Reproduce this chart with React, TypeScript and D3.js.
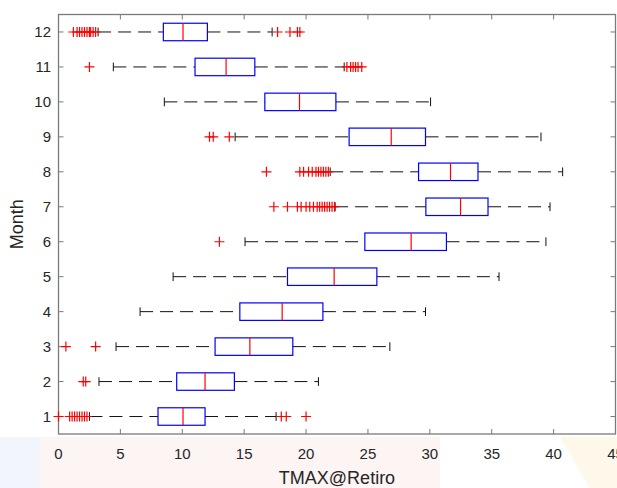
import React from 'react';
import * as d3 from 'd3';

// boxplot stats (month 1..12)
const months = [1, 2, 3, 4, 5, 6, 7, 8, 9, 10, 11, 12];
const whiskerLow = [2.5, 3.27, 4.65, 6.59, 9.26, 15.07, 22.35, 21.95, 14.27, 8.55, 4.43, 3.2];
const q1 = [8.04, 9.55, 12.65, 14.65, 18.5, 24.75, 29.68, 29.09, 23.48, 16.67, 11.03, 8.47];
const median = [10.06, 11.84, 15.46, 18.07, 22.27, 28.49, 32.48, 31.67, 26.88, 19.47, 13.54, 10.06];
const q3 = [11.84, 14.21, 18.93, 21.36, 25.72, 31.34, 34.7, 33.89, 29.65, 22.41, 15.86, 12.03];
const whiskerHigh = [17.58, 21.0, 26.77, 29.65, 35.59, 39.38, 39.71, 40.73, 38.98, 30.06, 23.08, 17.26];
const outliers = [
  [0.0, 0.9, 1.1, 1.3, 1.5, 1.7, 1.9, 2.1, 2.3, 18.0, 18.4, 20.0],
  [2.0, 2.2],
  [0.6, 3.0],
  [],
  [],
  [13.0],
  [17.4, 18.5, 19.3, 19.6, 20.0, 20.3, 20.6, 20.9, 21.1, 21.3, 21.5, 21.7, 21.9, 22.1, 22.3],
  [16.8, 19.5, 19.8, 20.2, 20.5, 20.8, 21.0, 21.2, 21.4, 21.6, 21.8],
  [12.2, 12.5, 13.8],
  [],
  [2.5, 23.3, 23.6, 23.8, 24.0, 24.2, 24.5],
  [1.2, 1.5, 1.7, 1.9, 2.1, 2.3, 2.5, 2.6, 2.8, 3.0, 17.7, 18.7, 19.3, 19.5],
];
const xTicks = [0, 5, 10, 15, 20, 25, 30, 35, 40, 45];
const xLabel = 'TMAX@Retiro';
const yLabel = 'Month';

const W = 617;
const H = 488;
const left = 58.5;
const right = 615.5;
const top = 14.5;
const bottom = 434;
const font = 'Helvetica, Arial, "Liberation Sans", sans-serif';
const axisColor = '#7a7a7a';
const textColor = '#262626';

const App = () => {
  const x = d3.scaleLinear().domain([0, 45]).range([left, right]);
  const y = d3.scaleLinear().domain([0.5, 12.5]).range([bottom, top]);
  const bh = (y(0) - y(0.5)); // box height = 0.5 month
  const cap = bh / 2;

  return (
    <svg width={W} height={H} style={{ position: 'absolute', left: 0, top: 0, display: 'block' }}>
      <rect width={W} height={H} fill="#ffffff" />
      {/* faint background bands at the bottom */}
      <rect x={0} y={437} width={40} height={51} fill="#f2f6fc" />
      <rect x={40} y={437} width={400} height={51} fill="#fdf4f4" />
      <path d="M560,437 L617,437 L617,488 L590,488 Z" fill="#fdf8ea" />

      {/* axes box */}
      <rect x={left} y={top} width={right - left} height={bottom - top} fill="none" stroke={axisColor} strokeWidth={1.3} />
      {xTicks.map((t) => (
        <g key={t}>
          <line x1={x(t)} x2={x(t)} y1={bottom} y2={bottom - 5} stroke={axisColor} />
          <line x1={x(t)} x2={x(t)} y1={top} y2={top + 5} stroke={axisColor} />
          <text x={x(t)} y={459} textAnchor="middle" fontFamily={font} fontSize={15} fill={textColor}>{t}</text>
        </g>
      ))}
      {months.map((m) => (
        <g key={m}>
          <line x1={left} x2={left + 5} y1={y(m)} y2={y(m)} stroke={axisColor} />
          <line x1={right} x2={right - 5} y1={y(m)} y2={y(m)} stroke={axisColor} />
          <text x={51} y={y(m)} dy="0.36em" textAnchor="end" fontFamily={font} fontSize={15} fill={textColor}>{m}</text>
        </g>
      ))}
      <text x={(left + right) / 2} y={484} textAnchor="middle" fontFamily={font} fontSize={18} fill={textColor}>{xLabel}</text>
      <text transform={`translate(23,${(top + bottom) / 2}) rotate(-90)`} textAnchor="middle" fontFamily={font} fontSize={18} fill={textColor}>{yLabel}</text>

      {/* boxes */}
      {months.map((m, i) => {
        const cy = y(m);
        return (
          <g key={m}>
            <line x1={x(whiskerLow[i])} x2={x(q1[i])} y1={cy} y2={cy} stroke="#111" strokeDasharray="13,7" />
            <line x1={x(q3[i])} x2={x(whiskerHigh[i])} y1={cy} y2={cy} stroke="#111" strokeDasharray="13,7" />
            <line x1={x(whiskerLow[i])} x2={x(whiskerLow[i])} y1={cy - cap / 2} y2={cy + cap / 2} stroke="#111" />
            <line x1={x(whiskerHigh[i])} x2={x(whiskerHigh[i])} y1={cy - cap / 2} y2={cy + cap / 2} stroke="#111" />
            <rect x={x(q1[i])} y={cy - bh / 2} width={x(q3[i]) - x(q1[i])} height={bh} fill="none" stroke="#0000ff" strokeWidth={1.2} />
            <line x1={x(median[i])} x2={x(median[i])} y1={cy - bh / 2} y2={cy + bh / 2} stroke="#ff0000" strokeWidth={1.2} />
            {outliers[i].map((v, j) => (
              <path key={j} d={`M${x(v) - 5},${cy}h10M${x(v)},${cy - 5}v10`} stroke="#ff0000" strokeWidth={1.2} fill="none" />
            ))}
          </g>
        );
      })}
    </svg>
  );
};

export default App;
